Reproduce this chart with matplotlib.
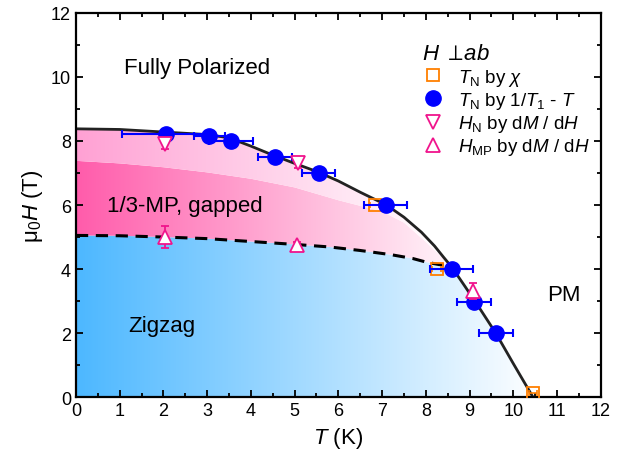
import numpy as np
import matplotlib
matplotlib.use("Agg")
import matplotlib.pyplot as plt
from matplotlib.patches import Polygon

plt.rcParams['font.family'] = ['Liberation Sans', 'DejaVu Sans']
plt.rcParams['mathtext.fontset'] = 'custom'
plt.rcParams['mathtext.rm'] = 'Liberation Sans'
plt.rcParams['mathtext.it'] = 'Liberation Sans:italic'
plt.rcParams['mathtext.bf'] = 'Liberation Sans:bold'

# phase boundary (solid line)
T_line = [0, 1, 2, 3, 3.5, 4, 4.5, 5, 5.5, 6, 6.5, 7.1, 7.5, 7.9, 8.2, 8.4, 8.6, 8.9, 9.2, 9.6, 10.0, 10.45]
H_line = [8.38, 8.36, 8.28, 8.2, 8.1, 7.84, 7.56, 7.3, 7.05, 6.75, 6.4, 6.0, 5.62, 5.15, 4.72, 4.38, 4.05, 3.45, 2.84, 2.0, 1.05, 0.0]

# zigzag / 1/3-MP boundary (dashed)
T_dash = [0, 1, 2, 3, 4, 5, 5.8, 6.5, 7.2, 7.7, 8.0, 8.3, 8.55]
H_dash = [5.05, 5.04, 5.0, 4.95, 4.86, 4.77, 4.69, 4.58, 4.45, 4.33, 4.22, 4.14, 4.12]

# edge between dark and light pink shading
T_mid = [0, 1, 2, 3, 4, 5, 6, 7, 7.5, 8, 8.5]
H_mid = [7.38, 7.3, 7.18, 7.02, 6.82, 6.55, 6.15, 5.8, 5.45, 4.85, 4.2]

# T_N by chi
T_chi = [6.83, 8.25, 10.45]
H_chi = [6.0, 4.0, 0.12]
Terr_chi = [0.1, 0.1, 0.1]

# T_N by 1/T1 - T
T_nmr = [2.05, 3.05, 3.55, 4.55, 5.55, 7.08, 8.59, 9.1, 9.6]
H_nmr = [8.22, 8.15, 8.0, 7.5, 7.0, 6.0, 4.0, 2.97, 2.0]
Terr_nmr = [1.0, 0.35, 0.5, 0.38, 0.38, 0.5, 0.5, 0.38, 0.39]

# H_N by dM/dH
T_hn = [2.03, 5.07]
H_hn = [7.9, 7.3]
Herr_hn = [0.15, 0.15]

# H_MP by dM/dH
T_hmp = [2.03, 5.05, 9.08]
H_hmp = [5.0, 4.75, 3.3]
Herr_hmp = [0.35, 0.08, 0.25]

fig, ax = plt.subplots(figsize=(6.33, 4.64), dpi=100)
fig.subplots_adjust(left=0.12, right=0.949, top=0.97, bottom=0.142)


def grad_fill(verts, rgb, t_white, z):
    patch = Polygon(verts, closed=True, facecolor='none', edgecolor='none')
    ax.add_patch(patch)
    xs = np.linspace(0, 12, 800)
    frac = np.clip(1 - xs / t_white, 0, 1)
    img = 1 - frac[None, :, None] * (1 - np.array(rgb))[None, None, :]
    img = np.repeat(img, 2, axis=0)
    im = ax.imshow(img, extent=[0, 12, 0, 12], aspect='auto', origin='lower',
                   zorder=z, interpolation='bilinear')
    im.set_clip_path(patch)


# blue zigzag region
blue_verts = [(0, 0)] + list(zip(T_dash, H_dash)) + \
    [(t, h) for t, h in zip(T_line, H_line) if t > 8.55] + [(10.45, 0)]
grad_fill(blue_verts, (0.30, 0.72, 1.0), 10.6, 0.5)

# dark pink 1/3-MP region
pink_verts = list(zip(T_dash, H_dash)) + list(zip(T_mid, H_mid))[::-1]
grad_fill(pink_verts, (1.0, 0.36, 0.67), 9.2, 0.6)

# light pink region
lp_verts = list(zip(T_mid, H_mid)) + \
    [(t, h) for t, h in zip(T_line, H_line) if t < 8.5][::-1]
grad_fill(lp_verts, (1.0, 0.63, 0.83), 8.4, 0.6)

ax.plot(T_line, H_line, color='#222222', lw=2.0, zorder=2)
ax.plot(T_dash, H_dash, color='black', lw=2.2, ls=(0, (4, 2.5)), zorder=2)

orange = '#ff7f00'
blue = '#0000ff'
pink = '#f0148c'

ax.errorbar(T_chi, H_chi, xerr=Terr_chi, fmt='none', ecolor=orange, elinewidth=1.2,
            capsize=2.5, capthick=1.2, zorder=3)
ax.plot(T_chi, H_chi, 's', ms=9, mfc='none', mec=orange, mew=1.3, zorder=3,
        label=r'$T_\mathrm{N}$ by $\chi$')

ax.errorbar(T_nmr, H_nmr, xerr=Terr_nmr, fmt='none', ecolor=blue, elinewidth=1.5,
            capsize=3, capthick=1.5, zorder=4)
ax.plot(T_nmr, H_nmr, 'o', ms=11, color=blue, zorder=4,
        label=r'$T_\mathrm{N}$ by 1/$T_1$ - $T$')

ax.errorbar(T_hn, H_hn, yerr=Herr_hn, fmt='none', ecolor=pink, elinewidth=1.3,
            capsize=3, capthick=1.3, zorder=5)
ax.plot(T_hn, H_hn, 'v', ms=10, mfc='white', mec=pink, mew=1.3, zorder=5,
        label=r'$H_\mathrm{N}$ by d$M$ / d$H$')

ax.errorbar(T_hmp, H_hmp, yerr=Herr_hmp, fmt='none', ecolor=pink, elinewidth=1.3,
            capsize=3, capthick=1.3, zorder=5)
ax.plot(T_hmp, H_hmp, '^', ms=10, mfc='white', mec=pink, mew=1.3, zorder=5,
        label=r'$H_\mathrm{MP}$ by d$M$ / d$H$')

ax.text(1.1, 10.3, 'Fully Polarized', fontsize=16, va='center', ha='left')
ax.text(0.7, 6.0, '1/3-MP, gapped', fontsize=16, va='center', ha='left')
ax.text(1.2, 2.25, 'Zigzag', fontsize=16, va='center', ha='left')
ax.text(11.15, 3.2, 'PM', fontsize=16, va='center', ha='center')

leg = ax.legend(loc='upper right', bbox_to_anchor=(1.0, 0.95), frameon=False,
                fontsize=13.5, title=r'$H\ \perp\!ab$', title_fontsize=16,
                handletextpad=0.7, labelspacing=0.12, borderaxespad=0.2,
                handlelength=1.2)
leg._legend_box.align = 'left'
leg.set_zorder(10)

ax.set_xlim(0, 12)
ax.set_ylim(0, 12)
ax.set_xticks(np.arange(0, 13, 1))
ax.set_xticks(np.arange(0, 12.5, 0.5), minor=True)
ax.set_yticks(np.arange(0, 13, 2))
ax.set_yticks(np.arange(0, 13, 1), minor=True)
ax.tick_params(which='both', direction='in', top=True, right=True, width=1.3,
               labelsize=13)
ax.tick_params(which='major', length=5)
ax.tick_params(which='minor', length=3)
for s in ax.spines.values():
    s.set_linewidth(1.6)

ax.set_xlabel(r'$T$ (K)', fontsize=16)
ax.set_ylabel(r'μ$_0$$H$ (T)', fontsize=16)

fig.savefig('out.png', dpi=100)
